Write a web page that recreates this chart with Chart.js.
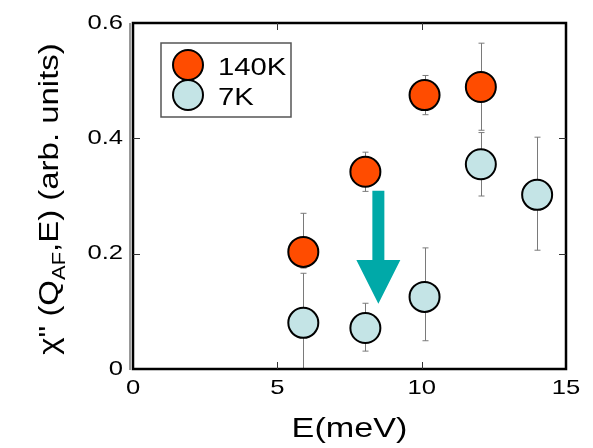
<!DOCTYPE html>
<html>
<head>
<meta charset="utf-8">
<script src="https://cdn.jsdelivr.net/npm/chart.js@4/dist/chart.umd.min.js"></script>
<style>
  html, body { margin: 0; padding: 0; background: #fff; }
  canvas { display: block; }
</style>
</head>
<body>
<canvas id="chart" width="593" height="448"></canvas>
<script>
// susceptibility at Q_AF vs energy transfer, two temperatures
const energies140 = [5.9, 8.05, 10.1, 12.05];
const chi140 = [0.203, 0.342, 0.475, 0.489];
const chi140Lo = [0.175, 0.308, 0.441, 0.414];
const chi140Hi = [0.270, 0.376, 0.509, 0.565];

const energies7 = [5.9, 8.05, 10.1, 12.05, 14.0];
const chi7 = [0.080, 0.071, 0.125, 0.355, 0.302];
const chi7Lo = [-0.006, 0.031, 0.049, 0.300, 0.206];
const chi7Hi = [0.166, 0.114, 0.210, 0.410, 0.402];

const seriesLabels = ['140K', '7K'];
const xTicks = [0, 5, 10, 15];
const xTickLabels = ['0', '5', '10', '15'];
const yTicks = [0, 0.2, 0.4, 0.6];
const yTickLabels = ['0', '0.2', '0.4', '0.6'];

// arrow showing the drop on cooling (E, from, head base, tip)
const arrowE = 8.5;
const arrowFrom = 0.309;
const arrowHeadBase = 0.189;
const arrowTip = 0.113;

const RED = '#FF4C00';
const BLUE = '#C4E4E6';
const TEAL = '#00A9A8';
const FONT = '"Liberation Sans", Arial, sans-serif';
const STRETCH = 1.22; // glyphs in this figure are set wide

function wideText(ctx, text, x, y, size, align) {
  ctx.save();
  ctx.font = size + 'px ' + FONT;
  const w = ctx.measureText(text).width * STRETCH;
  let x0 = x;
  if (align === 'center') x0 = x - w / 2;
  else if (align === 'right') x0 = x - w;
  ctx.translate(x0, y);
  ctx.scale(STRETCH, 1);
  ctx.textAlign = 'left';
  ctx.fillText(text, 0, 0);
  ctx.restore();
  return w;
}

const toPoints = (xs, ys) => xs.map((x, i) => ({ x: x, y: ys[i] }));

const frameAndBars = {
  id: 'frameAndBars',
  beforeDatasetsDraw(chart) {
    const { ctx, chartArea: a, scales: { x, y } } = chart;
    ctx.save();

    // error bars
    ctx.beginPath();
    ctx.rect(a.left, a.top, a.right - a.left, a.bottom - a.top);
    ctx.clip();
    ctx.strokeStyle = '#7a7a7a';
    ctx.lineWidth = 1;
    const bars = [[energies140, chi140Lo, chi140Hi], [energies7, chi7Lo, chi7Hi]];
    bars.forEach(([xs, lo, hi]) => {
      xs.forEach((e, i) => {
        const px = Math.round(x.getPixelForValue(e)) + 0.5;
        const pLo = y.getPixelForValue(lo[i]);
        const pHi = y.getPixelForValue(hi[i]);
        ctx.beginPath();
        ctx.moveTo(px, pLo); ctx.lineTo(px, pHi);
        ctx.moveTo(px - 3, pLo); ctx.lineTo(px + 3, pLo);
        ctx.moveTo(px - 3, pHi); ctx.lineTo(px + 3, pHi);
        ctx.stroke();
      });
    });
    ctx.restore();

    // frame with inward ticks on all sides
    ctx.save();
    ctx.strokeStyle = '#000';
    ctx.lineWidth = 2.5;
    ctx.strokeRect(a.left, a.top, a.right - a.left, a.bottom - a.top);
    ctx.lineWidth = 1;
    ctx.strokeStyle = '#333';
    ctx.beginPath();
    ctx.moveTo(a.left - 3, a.top); ctx.lineTo(a.left - 3, a.bottom + 1);
    ctx.stroke();
    ctx.beginPath();
    xTicks.slice(1, -1).forEach(v => {
      const px = Math.round(x.getPixelForValue(v)) + 0.5;
      ctx.moveTo(px, a.bottom); ctx.lineTo(px, a.bottom - 7);
      ctx.moveTo(px, a.top); ctx.lineTo(px, a.top + 7);
    });
    yTicks.slice(1, -1).forEach(v => {
      const py = Math.round(y.getPixelForValue(v)) + 0.5;
      ctx.moveTo(a.left, py); ctx.lineTo(a.left + 7, py);
      ctx.moveTo(a.right, py); ctx.lineTo(a.right - 7, py);
    });
    ctx.stroke();
    ctx.restore();
  },
  afterDatasetsDraw(chart) {
    const { ctx, chartArea: a, scales: { x, y } } = chart;

    // cooling arrow
    const cx = x.getPixelForValue(arrowE);
    const y0 = y.getPixelForValue(arrowFrom);
    const y1 = y.getPixelForValue(arrowHeadBase);
    const y2 = y.getPixelForValue(arrowTip);
    ctx.save();
    ctx.fillStyle = TEAL;
    ctx.beginPath();
    ctx.moveTo(cx - 6, y0);
    ctx.lineTo(cx + 6, y0);
    ctx.lineTo(cx + 6, y1);
    ctx.lineTo(cx + 22, y1);
    ctx.lineTo(cx, y2);
    ctx.lineTo(cx - 22, y1);
    ctx.lineTo(cx - 6, y1);
    ctx.closePath();
    ctx.fill();
    ctx.restore();

    // legend box
    const lx = a.left + 28, ly = a.top + 20;
    ctx.save();
    ctx.fillStyle = '#fff';
    ctx.strokeStyle = '#555';
    ctx.lineWidth = 1.5;
    ctx.fillRect(lx, ly, 130, 74);
    ctx.strokeRect(lx, ly, 130, 74);
    chart.data.datasets.forEach((ds, i) => {
      const cy = ly + 22 + i * 30;
      ctx.beginPath();
      ctx.arc(lx + 27, cy, 15, 0, Math.PI * 2);
      ctx.fillStyle = ds.backgroundColor;
      ctx.fill();
      ctx.lineWidth = 2;
      ctx.strokeStyle = '#000';
      ctx.stroke();
      ctx.fillStyle = '#000';
      ctx.textBaseline = 'alphabetic';
      wideText(ctx, seriesLabels[i], lx + 57, cy + 10, 24, 'left');
    });
    ctx.restore();
  },
  afterDraw(chart) {
    const { ctx, chartArea: a, scales: { x, y } } = chart;
    ctx.save();
    ctx.fillStyle = '#000';

    // tick labels
    ctx.textBaseline = 'middle';
    yTicks.forEach((v, i) => {
      wideText(ctx, yTickLabels[i], a.left - 10, y.getPixelForValue(v), 21, 'right');
    });
    ctx.textBaseline = 'top';
    xTicks.forEach((v, i) => {
      wideText(ctx, xTickLabels[i], x.getPixelForValue(v), a.bottom + 9, 21, 'center');
    });

    // axis titles
    ctx.textBaseline = 'alphabetic';
    wideText(ctx, 'E(meV)', (a.left + a.right) / 2, 437, 28, 'center');

    // y title: χ" (Q_AF,E) (arb. units), rotated, with subscript
    const parts = [
      { t: '\u03C7" (Q', size: 27, dy: 0 },
      { t: 'AF', size: 18, dy: 7 },
      { t: ',E) (arb. units)', size: 27, dy: 0 }
    ];
    let total = 0;
    parts.forEach(p => {
      ctx.font = p.size + 'px ' + FONT;
      p.w = ctx.measureText(p.t).width * STRETCH;
      total += p.w;
    });
    ctx.translate(58, (a.top + a.bottom) / 2 + total / 2 + 3);
    ctx.rotate(-Math.PI / 2);
    let pos = 0;
    parts.forEach(p => {
      wideText(ctx, p.t, pos, p.dy, p.size, 'left');
      pos += p.w;
    });
    ctx.restore();
  }
};

const ctx = document.getElementById('chart').getContext('2d');
new Chart(ctx, {
  type: 'scatter',
  data: {
    datasets: [
      {
        label: seriesLabels[0],
        data: toPoints(energies140, chi140),
        backgroundColor: RED,
        borderColor: '#000',
        borderWidth: 2,
        pointRadius: 15,
        pointHoverRadius: 15
      },
      {
        label: seriesLabels[1],
        data: toPoints(energies7, chi7),
        backgroundColor: BLUE,
        borderColor: '#000',
        borderWidth: 2,
        pointRadius: 15,
        pointHoverRadius: 15
      }
    ]
  },
  options: {
    responsive: false,
    animation: false,
    devicePixelRatio: 1,
    layout: { padding: { left: 0, top: 23, right: 27, bottom: 0 } },
    plugins: {
      legend: { display: false },
      tooltip: { enabled: false }
    },
    scales: {
      x: {
        type: 'linear',
        min: 0, max: 15,
        grid: { display: false },
        border: { display: false },
        ticks: { display: false },
        afterFit(scale) { scale.height = 79; }
      },
      y: {
        type: 'linear',
        min: 0, max: 0.6,
        grid: { display: false },
        border: { display: false },
        ticks: { display: false },
        afterFit(scale) { scale.width = 133; }
      }
    }
  },
  plugins: [frameAndBars]
});
</script>
</body>
</html>
